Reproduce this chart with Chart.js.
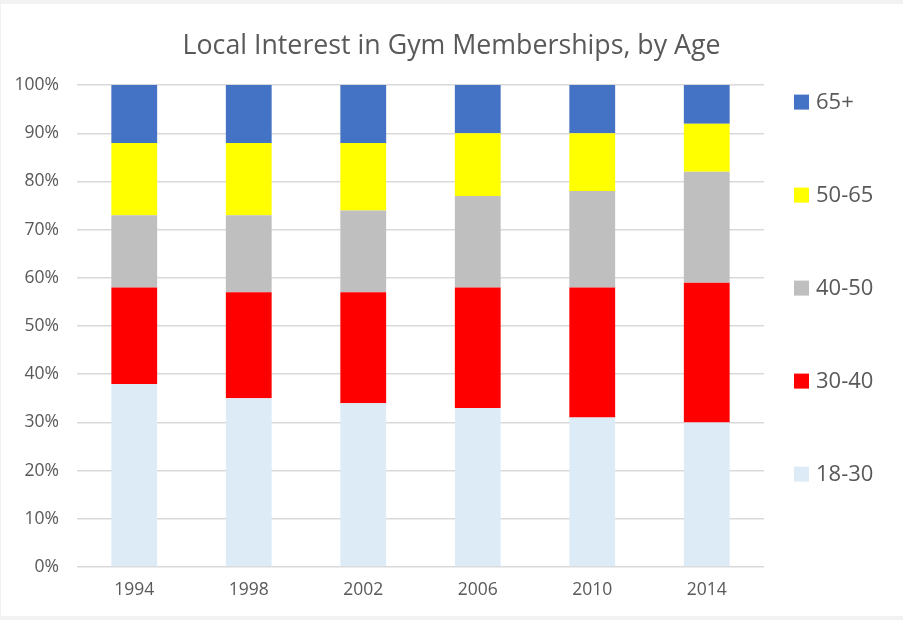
<!DOCTYPE html>
<html>
<head>
<meta charset="utf-8">
<script src="https://cdn.jsdelivr.net/npm/chart.js@4"></script>
<style>
  html, body { margin: 0; padding: 0; background: #f2f2f2; }
  #wrap { position: absolute; left: 1px; top: 4px; width: 902px; height: 612px; background: #ffffff; }
  canvas { display: block; }
</style>
</head>
<body>
<div id="wrap"><canvas id="c" width="902" height="612"></canvas></div>
<script>
const years = ["1994", "1998", "2002", "2006", "2010", "2014"];
const age18to30 = [38, 35, 34, 33, 31, 30];
const age30to40 = [20, 22, 23, 25, 27, 29];
const age40to50 = [15, 16, 17, 19, 20, 23];
const age50to65 = [15, 15, 14, 13, 12, 10];
const age65plus = [12, 12, 12, 10, 10, 8];
const seriesNames = ["18-30", "30-40", "40-50", "50-65", "65+"];
const seriesColors = ["#DDEBF7", "#FF0000", "#BFBFBF", "#FFFF00", "#4472C4"];
const titleText = "Local Interest in Gym Memberships, by Age";

const textColor = "#595959";
const fontFamily = "'Open Sans', sans-serif";

const seriesData = [age18to30, age30to40, age40to50, age50to65, age65plus];

// Right-side legend as a layout box (reserves space without shifting the title)
const legendPlugin = {
  id: "sideLegend",
  beforeInit(chart) {
    const box = {
      position: "right",
      weight: 0,
      fullSize: false,
      options: {},
      isHorizontal() { return false; },
      update(maxWidth, maxHeight) { this.width = 124; this.height = maxHeight; return { width: 124, height: maxHeight }; },
      draw() {
        const ctx = chart.ctx;
        const area = chart.chartArea;
        const ds = chart.data.datasets;
        const n = ds.length;
        const spacing = 93;
        ctx.save();
        ctx.font = "22px " + fontFamily;
        ctx.textBaseline = "middle";
        ctx.textAlign = "left";
        for (let k = 0; k < n; k++) {
          const d = ds[n - 1 - k];
          const cy = area.top + 17 + k * spacing;
          const bx = area.right + 30;
          ctx.fillStyle = d.backgroundColor;
          ctx.fillRect(bx, cy - 7.5, 15, 15);
          ctx.fillStyle = textColor;
          ctx.fillText(d.label, bx + 22, cy + 1);
        }
        ctx.restore();
      }
    };
    Chart.layouts.addBox(chart, box);
  }
};

new Chart(document.getElementById("c"), {
  type: "bar",
  data: {
    labels: years,
    datasets: seriesNames.map((name, i) => ({
      label: name,
      data: seriesData[i],
      backgroundColor: seriesColors[i],
      borderWidth: 0,
      categoryPercentage: 1.0,
      barPercentage: 0.4
    }))
  },
  options: {
    responsive: false,
    animation: false,
    devicePixelRatio: 1,
    layout: { padding: { left: 14, right: 15, top: 0, bottom: 10 } },
    plugins: {
      legend: { display: false },
      tooltip: { enabled: false },
      title: {
        display: true,
        text: titleText,
        color: textColor,
        font: { family: fontFamily, size: 26.75, weight: "normal" },
        padding: { top: 26, bottom: 23 }
      }
    },
    scales: {
      x: {
        stacked: true,
        grid: { display: false },
        border: { display: false },
        ticks: { color: textColor, font: { family: fontFamily, size: 17.5 }, padding: 5 }
      },
      y: {
        stacked: true,
        min: 0,
        max: 100,
        afterFit(scale) { scale.width = 62; },
        grid: { color: "#D9D9D9", lineWidth: 1.5, drawTicks: false },
        border: { display: false },
        ticks: {
          stepSize: 10,
          color: textColor,
          font: { family: fontFamily, size: 17.5 },
          padding: 18,
          callback: v => v + "%"
        }
      }
    }
  },
  plugins: [legendPlugin]
});
</script>
</body>
</html>
